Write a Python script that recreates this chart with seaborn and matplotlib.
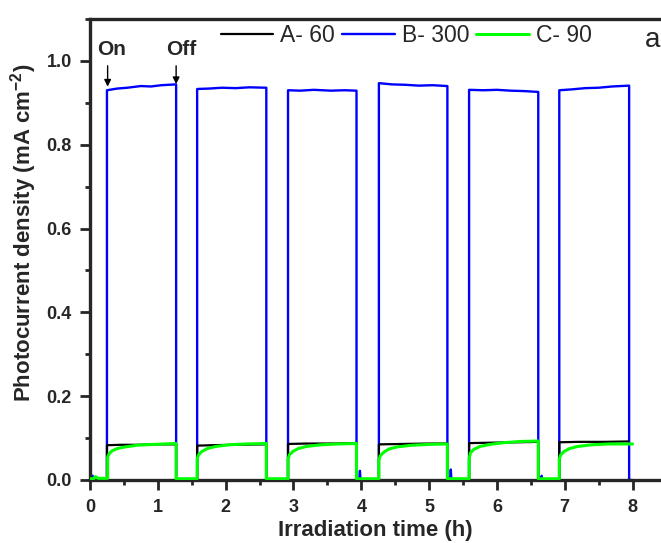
import numpy as np
import pandas as pd
import matplotlib
matplotlib.use("Agg")
import matplotlib.pyplot as plt
import seaborn as sns

########### Data ###########

# A- 60 (black)
t_a = [0.00, 0.25, 0.25, 0.45, 0.70, 1.00, 1.27, 1.27, 1.58, 1.58, 1.80, 2.10, 2.60, 2.60,
       2.92, 2.92, 3.20, 3.60, 3.93, 3.93, 4.26, 4.26, 4.60, 5.00, 5.27, 5.27,
       5.59, 5.59, 5.90, 6.30, 6.61, 6.61, 6.92, 6.92, 7.20, 7.60, 7.94]
i_a = [0.000, 0.000, 0.083, 0.084, 0.084, 0.085, 0.085, 0.000, 0.000, 0.082, 0.083, 0.084, 0.085, 0.000,
       0.000, 0.086, 0.087, 0.087, 0.088, 0.000, 0.000, 0.085, 0.086, 0.087, 0.087, 0.000,
       0.000, 0.088, 0.089, 0.090, 0.091, 0.000, 0.000, 0.090, 0.091, 0.091, 0.092]

# B- 300 (blue)
t_b = [0.00, 0.04, 0.05, 0.25, 0.25, 0.40, 0.55, 0.75, 0.90, 1.05, 1.27, 1.27,
       1.58, 1.58, 1.75, 1.95, 2.15, 2.35, 2.60, 2.60,
       2.92, 2.92, 3.10, 3.30, 3.55, 3.75, 3.93, 3.93, 3.97, 3.98, 3.99,
       4.26, 4.26, 4.45, 4.65, 4.85, 5.05, 5.27, 5.27, 5.31, 5.32, 5.33,
       5.59, 5.59, 5.80, 6.00, 6.20, 6.40, 6.61, 6.61, 6.65, 6.66, 6.67,
       6.92, 6.92, 7.10, 7.30, 7.50, 7.70, 7.95, 7.95, 8.00]
i_b = [0.010, 0.010, 0.000, 0.000, 0.930, 0.934, 0.936, 0.940, 0.939, 0.942, 0.944, 0.000,
       0.000, 0.933, 0.934, 0.936, 0.935, 0.937, 0.936, 0.000,
       0.000, 0.930, 0.929, 0.931, 0.929, 0.930, 0.929, 0.000, 0.000, 0.022, 0.000,
       0.000, 0.947, 0.944, 0.943, 0.941, 0.942, 0.940, 0.000, 0.000, 0.025, 0.000,
       0.000, 0.931, 0.930, 0.931, 0.929, 0.928, 0.926, 0.000, 0.000, 0.010, 0.000,
       0.000, 0.930, 0.932, 0.935, 0.936, 0.939, 0.941, 0.000, 0.000]

# C- 90 (green)
t_c = [0.00, 0.05, 0.08, 0.12, 0.26, 0.26, 0.28, 0.32, 0.40, 0.52, 0.70, 0.95, 1.27, 1.27,
       1.58, 1.58, 1.60, 1.65, 1.73, 1.85, 2.05, 2.30, 2.60, 2.60,
       2.92, 2.92, 2.94, 2.99, 3.07, 3.19, 3.40, 3.65, 3.93, 3.93,
       4.26, 4.26, 4.28, 4.33, 4.41, 4.53, 4.75, 5.00, 5.27, 5.27,
       5.59, 5.59, 5.61, 5.66, 5.75, 5.90, 6.10, 6.35, 6.61, 6.61,
       6.92, 6.92, 6.94, 6.99, 7.07, 7.19, 7.40, 7.65, 8.00]
i_c = [0.003, 0.003, 0.008, 0.004, 0.004, 0.055, 0.062, 0.069, 0.075, 0.079, 0.083, 0.085, 0.087, 0.003,
       0.003, 0.050, 0.060, 0.068, 0.075, 0.080, 0.084, 0.086, 0.087, 0.003,
       0.003, 0.050, 0.060, 0.068, 0.075, 0.080, 0.084, 0.086, 0.087, 0.003,
       0.003, 0.048, 0.058, 0.066, 0.074, 0.079, 0.083, 0.085, 0.086, 0.003,
       0.003, 0.050, 0.065, 0.073, 0.080, 0.085, 0.089, 0.092, 0.093, 0.003,
       0.003, 0.050, 0.060, 0.068, 0.075, 0.080, 0.084, 0.086, 0.086]

x_ticks = [0, 1, 2, 3, 4, 5, 6, 7, 8]
y_ticks = [0.0, 0.2, 0.4, 0.6, 0.8, 1.0]

df_a = pd.DataFrame({"t": t_a, "i": i_a})
df_b = pd.DataFrame({"t": t_b, "i": i_b})
df_c = pd.DataFrame({"t": t_c, "i": i_c})

########### Figure ###########

sns.set_style("ticks")
plt.rcParams["font.family"] = ["Liberation Sans", "DejaVu Sans"]
plt.rcParams["mathtext.fontset"] = "custom"
plt.rcParams["mathtext.rm"] = "Liberation Sans"
plt.rcParams["mathtext.bf"] = "Liberation Sans:bold"

fig = plt.figure(figsize=(6.61, 5.43), dpi=100)
ax = fig.add_axes([90 / 661, 1 - 480 / 543, 1 - 90 / 661, (480 - 19) / 543])

sns.lineplot(data=df_a, x="t", y="i", ax=ax, sort=False, estimator=None,
             color="black", lw=1.6, label="A- 60", zorder=2)
sns.lineplot(data=df_b, x="t", y="i", ax=ax, sort=False, estimator=None,
             color="#0000ff", lw=1.7, label="B- 300", zorder=1)
sns.lineplot(data=df_c, x="t", y="i", ax=ax, sort=False, estimator=None,
             color="#00ff00", lw=2.2, label="C- 90", zorder=3)

ax.set_xlim(0, 8.42)
ax.set_ylim(0, 1.10)
ax.set_xticks(x_ticks)
ax.set_yticks(y_ticks)
ax.set_xticklabels([str(v) for v in x_ticks])
ax.set_yticklabels([f"{v:.1f}" for v in y_ticks])
ax.xaxis.set_minor_locator(matplotlib.ticker.MultipleLocator(0.5))
ax.yaxis.set_minor_locator(matplotlib.ticker.MultipleLocator(0.1))

for s in ["left", "bottom", "top"]:
    ax.spines[s].set_linewidth(2.4)
ax.spines["right"].set_visible(False)
ax.tick_params(which="major", length=7, width=2.0, labelsize=13, top=False, right=False)
ax.tick_params(axis="x", which="major", pad=6.5)
ax.tick_params(axis="y", which="major", pad=6)
ax.tick_params(which="minor", length=3.5, width=2.0, top=False, right=False)
for lab in ax.get_xticklabels() + ax.get_yticklabels():
    lab.set_fontweight("bold")

ax.set_xlabel("Irradiation time (h)", fontsize=16, fontweight="bold", labelpad=3)
ax.set_ylabel(r"Photocurrent density (mA cm$^{\mathbf{-2}}$)", fontsize=16, fontweight="bold")
ax.yaxis.set_label_coords(-(90 - 24) / 571, (480 - 233) / 461)
ax.yaxis.label.set_va("center")

ax.legend(loc="center left", bbox_to_anchor=(0.229, 0.965), ncol=3, frameon=False,
          fontsize=16.5, handlelength=2.3, handletextpad=0.3, columnspacing=0.3,
          borderpad=0, borderaxespad=0)

# On / Off markers
ax.text(0.32, 1.027, "On", fontsize=15, fontweight="bold", ha="center", va="center")
ax.text(1.34, 1.027, "Off", fontsize=15, fontweight="bold", ha="center", va="center")
ax.annotate("", xy=(0.26, 0.932), xytext=(0.26, 0.995),
            arrowprops=dict(arrowstyle="-|>", color="black", lw=1, mutation_scale=10))
ax.annotate("", xy=(1.27, 0.938), xytext=(1.27, 0.995),
            arrowprops=dict(arrowstyle="-|>", color="black", lw=1, mutation_scale=10))
ax.text(8.29, 1.05, "a", fontsize=20, ha="center", va="center")

plt.savefig("out.png", dpi=100)
